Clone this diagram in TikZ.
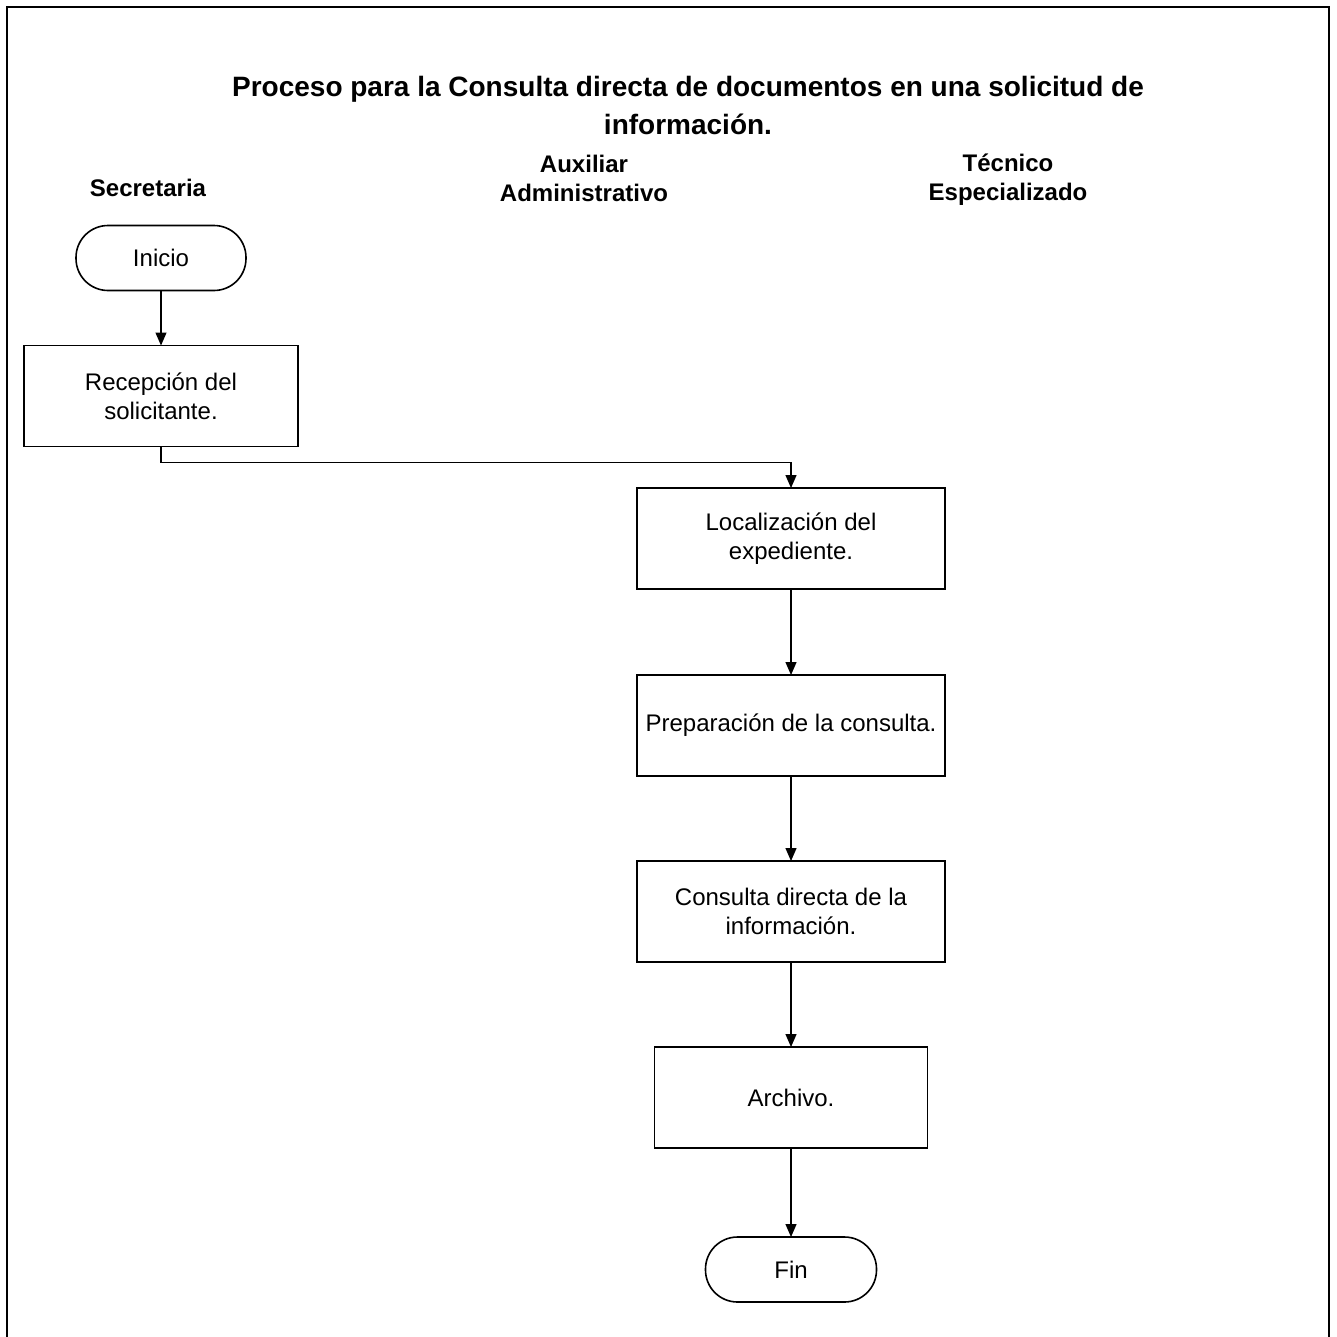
\documentclass[tikz,border=0pt]{standalone}
\usepackage{fontspec}
\setmainfont{Liberation Sans}
\usetikzlibrary{arrows.meta, positioning}

\begin{document}
\begin{tikzpicture}[x=1pt, y=-1pt,
    proceso/.style={rectangle, draw=black, line width=1.6pt, minimum width=308pt,
                    minimum height=101pt, align=center, outer sep=0pt,
                    font=\fontsize{24}{29}\selectfont},
    terminal/.style={rectangle, rounded corners=32pt, draw=black, line width=1.6pt,
                     minimum width=170pt, minimum height=65pt, outer sep=0pt,
                     font=\fontsize{24}{29}\selectfont},
    carril/.style={align=center, font=\fontsize{24}{29}\selectfont\bfseries},
    flujo/.style={-{Triangle[length=13pt, width=11pt]}, line width=1.3pt}
]
    \useasboundingbox (0,0) rectangle (1337,1336);
    % marco abierto por abajo
    \draw[line width=2.6pt] (7,1340) -- (7,7) -- (1329,7) -- (1329,1340);

    \node[align=center, font=\fontsize{28}{38}\selectfont\bfseries] (titulo) at (688,105)
        {Proceso para la Consulta directa de documentos en una solicitud de\\información.};

    \node[carril] (secretaria) at (148,188) {Secretaria};
    \node[carril] (auxiliar) at (584,178) {Auxiliar\\Administrativo};
    \node[carril] (tecnico) at (1008,180) {Técnico\\Especializado};

    \node[terminal] (inicio) at (161,258) {Inicio};
    \node[proceso, minimum width=274pt, below=55pt of inicio] (recepcion)
        {Recepción del\\solicitante.};

    \node[proceso] (localizacion) at (791,538.5) {Localización del\\expediente.};
    \node[proceso, below=86pt of localizacion] (preparacion) {Preparación de la consulta.};
    \node[proceso, below=85pt of preparacion] (consulta) {Consulta directa de la\\información.};
    \node[proceso, minimum width=273pt, below=85pt of consulta] (archivo) {Archivo.};
    \node[terminal, minimum width=171pt, below=89pt of archivo] (fin) {Fin};

    \draw[flujo] (inicio) -- (recepcion);
    \draw[flujo] (recepcion.south) -- ++(0,16) -| (localizacion.north);
    \draw[flujo] (localizacion) -- (preparacion);
    \draw[flujo] (preparacion) -- (consulta);
    \draw[flujo] (consulta) -- (archivo);
    \draw[flujo] (archivo) -- (fin);
\end{tikzpicture}
\end{document}
